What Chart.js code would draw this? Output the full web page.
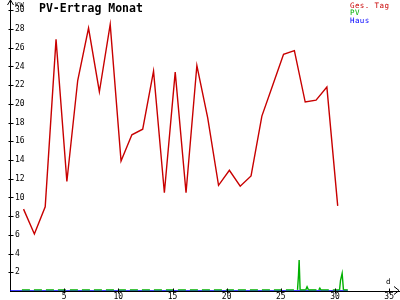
<!DOCTYPE html>
<html><head><meta charset="utf-8">
<script src="https://cdn.jsdelivr.net/npm/chart.js@4"></script>
<style>html,body{margin:0;padding:0;background:#fff}canvas{display:block}</style>
</head><body>
<canvas id="c" width="400" height="300"></canvas>
<script>
const titleText = 'PV-Ertrag Monat';
const seriesNames = ['Ges. Tag', 'PV', 'Haus'];
const seriesColors = ['#c80000', '#00b000', '#0000ff'];
const yAxisLabel = 'KW';
const xAxisLabel = 'd';

const dayPos = [1.25, 2.25, 3.25, 4.25, 5.25, 6.25, 7.25, 8.25, 9.25, 10.25,
  11.25, 12.25, 13.25, 14.25, 15.25, 16.25, 17.25, 18.25, 19.25, 20.25,
  21.25, 22.25, 23.25, 24.25, 25.25, 26.25, 27.25, 28.25, 29.25, 30.25];
const gesTag = [8.75, 6.1, 9.0, 26.9, 11.7, 22.5, 28.1, 21.3, 28.5, 13.9,
  16.7, 17.3, 23.5, 10.5, 23.4, 10.5, 24.1, 18.5, 11.3, 12.9,
  11.2, 12.3, 18.7, 22.0, 25.3, 25.7, 20.2, 20.4, 21.8, 9.1];

const pvPos = [1.1, 26.54, 26.63, 26.69, 26.78, 27.3, 27.42, 27.55, 28.5, 28.6, 28.69,
  30.42, 30.51, 30.66, 30.78, 31.18];
const pvVal = [0.12, 0.12, 1.7, 3.3, 0.12, 0.12, 0.45, 0.12, 0.12, 0.3, 0.12,
  0.12, 1.15, 1.9, 0.12, 0.12];

const hausPos = [0, 31.18];
const hausVal = [0, 0];

const xTicks = [5, 10, 15, 20, 25, 30, 35];
const yTicks = [2, 4, 6, 8, 10, 12, 14, 16, 18, 20, 22, 24, 26, 28, 30];

const toPts = (xs, ys) => xs.map((v, i) => ({x: v, y: ys[i]}));

const decor = {
  id: 'decor',
  afterDraw(chart) {
    const {ctx, chartArea: a, scales: {x, y}} = chart;
    ctx.save();
    ctx.strokeStyle = '#000';
    ctx.lineWidth = 1;
    ctx.beginPath();
    const ax = Math.round(a.left) + 0.5;
    const ay = Math.round(a.bottom) - 0.5;
    yTicks.forEach(v => {
      const py = Math.round(y.getPixelForValue(v)) + 0.5;
      ctx.moveTo(ax - 2, py); ctx.lineTo(ax + 3, py);
    });
    xTicks.forEach(v => {
      const px = Math.round(x.getPixelForValue(v)) + 0.5;
      ctx.moveTo(px, ay - 2); ctx.lineTo(px, ay + 3);
    });
    // y arrow
    ctx.moveTo(ax, 0); ctx.lineTo(ax, a.top + 2);
    ctx.moveTo(ax - 3, 5); ctx.lineTo(ax, 0); ctx.lineTo(ax + 3, 5);
    // x arrow
    ctx.moveTo(394, ay - 4); ctx.lineTo(399, ay); ctx.lineTo(394, ay + 4);
    ctx.stroke();

    ctx.fillStyle = '#000';
    ctx.textBaseline = 'alphabetic';
    ctx.textAlign = 'left';
    ctx.font = 'bold 11.5px "DejaVu Sans Mono"';
    ctx.letterSpacing = '0px';
    ctx.fillText(titleText, 39, 11.5);

    ctx.font = '7px "DejaVu Sans Mono"';
    ctx.letterSpacing = '0.3px';
    ctx.fillText(yAxisLabel, 15, 6.5);

    ctx.font = '7.5px "DejaVu Sans Mono"';
    ctx.letterSpacing = '0.3px';
    ctx.fillText(xAxisLabel, 386, 284);

    const baselines = [7.5, 15, 22.7];
    ctx.letterSpacing = '0.4px';
    seriesNames.forEach((n, i) => {
      ctx.fillStyle = seriesColors[i];
      ctx.fillText(n, 350, baselines[i]);
    });
    ctx.restore();
  }
};

new Chart(document.getElementById('c'), {
  type: 'line',
  data: {
    datasets: [
      {label: seriesNames[0], data: toPts(dayPos, gesTag), borderColor: seriesColors[0],
       borderWidth: 1.4, pointRadius: 0, tension: 0},
      {label: seriesNames[1], data: toPts(pvPos, pvVal), borderColor: seriesColors[1],
       borderWidth: 1.4, pointRadius: 0, tension: 0,
       segment: {borderDash: c => (c.p0.parsed.y > 0.2 || c.p1.parsed.y > 0.2) ? [] : [8, 4]}},
      {label: seriesNames[2], data: toPts(hausPos, hausVal), borderColor: seriesColors[2],
       borderWidth: 1.4, pointRadius: 0, tension: 0}
    ]
  },
  options: {
    responsive: false,
    animation: false,
    devicePixelRatio: 1,
    layout: {padding: {top: 1, right: 0, bottom: 0, left: 0}},
    plugins: {legend: {display: false}, title: {display: false}, tooltip: {enabled: false}},
    scales: {
      x: {
        type: 'linear', position: 'bottom', min: 0, max: 36,
        grid: {display: false, drawTicks: false},
        border: {display: true, color: '#000', width: 1},
        afterBuildTicks: s => { s.ticks = xTicks.map(v => ({value: v})); },
        afterFit: s => { s.height = 9; s.paddingLeft = 0; s.paddingRight = 0; },
        ticks: {color: '#000', padding: 2, maxRotation: 0, autoSkip: false,
          font: {family: 'DejaVu Sans Mono', size: 8, lineHeight: 1}}
      },
      y: {
        type: 'linear', position: 'left', min: 0, max: 31,
        grid: {display: false, drawTicks: false},
        border: {display: true, color: '#000', width: 1},
        afterBuildTicks: s => { s.ticks = yTicks.map(v => ({value: v})); },
        afterFit: s => { s.width = 10; s.paddingTop = 0; s.paddingBottom = 0; },
        ticks: {color: '#000', mirror: true, padding: 5, autoSkip: false,
          font: {family: 'DejaVu Sans Mono', size: 8, lineHeight: 1}}
      }
    }
  },
  plugins: [decor]
});
</script>
</body></html>
